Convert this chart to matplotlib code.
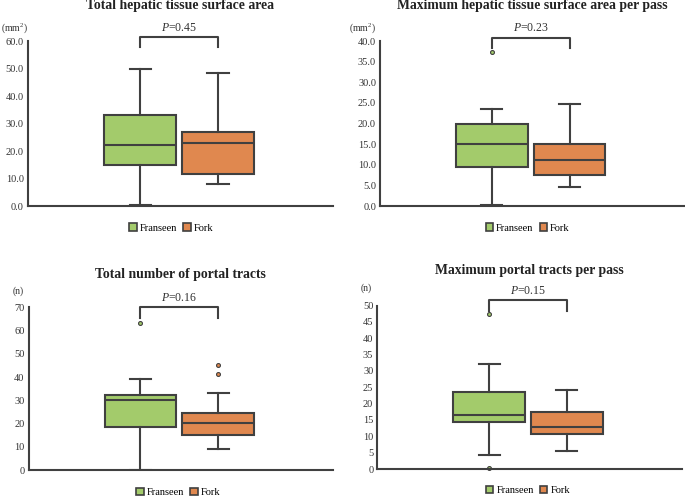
import matplotlib
matplotlib.use("Agg")
import matplotlib.pyplot as plt
from matplotlib.patches import Patch

plt.rcParams['font.family'] = ['Liberation Serif', 'DejaVu Serif']
plt.rcParams['mathtext.fontset'] = 'custom'
plt.rcParams['mathtext.rm'] = 'Liberation Serif'
plt.rcParams['mathtext.it'] = 'Liberation Serif:italic'

groups = ["Franseen", "Fork"]
colors = ["#A3CB6B", "#E0884F"]
edge = "#404040"

titles = ["Total hepatic tissue surface area",
          "Maximum hepatic tissue surface area per pass",
          "Total number of portal tracts",
          "Maximum portal tracts per pass"]
units = ["(mm$^2$)", "(mm$^2$)", "(n)", "(n)"]
pvalues = ["0.45", "0.23", "0.16", "0.15"]
ymax = [60, 40, 70, 50]
ystep = [10, 5, 10, 5]
tick_fmt = ["{:.1f}", "{:.1f}", "{:.0f}", "{:.0f}"]

# [whislo, q1, med, q3, whishi]
franseen_stats = [[0.4, 15.0, 22.2, 33.2, 50.0],
                  [0.3, 9.4, 15.0, 20.0, 23.5],
                  [0.0, 18.6, 30.3, 32.1, 39.3],
                  [4.4, 14.3, 16.4, 23.5, 32.2]]
fork_stats = [[7.9, 11.6, 22.8, 26.8, 48.2],
              [4.7, 7.6, 11.2, 15.0, 24.7],
              [9.0, 15.2, 20.1, 24.7, 33.1],
              [5.4, 10.7, 12.9, 17.5, 24.2]]
franseen_fliers = [[], [37.3], [63.4], [47.3, 0.2]]
fork_fliers = [[], [], [45.2, 41.2], []]

W, H = 685.0, 497.0
axes_rects = [[0.041, 0.5855, 0.445, 0.332],
              [0.555, 0.5855, 0.444, 0.332],
              [0.042, 0.0543, 0.444, 0.3274],
              [0.551, 0.0563, 0.444, 0.329]]
title_base = [9.5, 9.5, 278.3, 274.0]          # pixel rows from top
units_pos = [(27.5, 30.5), (376, 30.5), (23.5, 294), (372, 291)]
bracket_top = [1.022, 1.02, 1.0, 1.032]
bracket_bot = [0.962, 0.956, 0.936, 0.965]
legend_y = [228, 228, 492.5, 490.5]
legend_xfrac = [0.47, 0.485, 0.492, 0.495]

fig = plt.figure(figsize=(6.85, 4.97), dpi=100)

for i in range(4):
    ax = fig.add_axes(axes_rects[i])
    stats = []
    for name, s, fl in ((groups[0], franseen_stats[i], franseen_fliers[i]),
                        (groups[1], fork_stats[i], fork_fliers[i])):
        stats.append(dict(label=name, whislo=s[0], q1=s[1], med=s[2],
                          q3=s[3], whishi=s[4], fliers=fl))
    bp = ax.bxp(stats, positions=[1, 2], widths=0.92, patch_artist=True,
                showfliers=True,
                boxprops=dict(edgecolor=edge, linewidth=1.5),
                medianprops=dict(color=edge, linewidth=1.5),
                whiskerprops=dict(color=edge, linewidth=1.5),
                capprops=dict(color=edge, linewidth=1.5),
                capwidths=0.27)
    for patch, c in zip(bp['boxes'], colors):
        patch.set_facecolor(c)
    for fl, c in zip(bp['fliers'], colors):
        fl.set(marker='o', markersize=2.8, markerfacecolor=c,
               markeredgecolor=edge, markeredgewidth=0.8, clip_on=False)
    ax.set_xlim(-0.436, 3.474)
    ax.set_ylim(0, ymax[i])
    ticks = list(range(0, ymax[i] + 1, ystep[i]))
    ax.set_yticks(ticks)
    ax.set_yticklabels([tick_fmt[i].format(t) for t in ticks], fontsize=7.5,
                       color="#333333")
    ax.set_xticks([])
    ax.tick_params(axis='y', length=0, pad=3)
    for sp in ['top', 'right']:
        ax.spines[sp].set_visible(False)
    for sp in ['left', 'bottom']:
        ax.spines[sp].set_color(edge)
        ax.spines[sp].set_linewidth(1.5)
    x0, y0, w, h = axes_rects[i]
    fig.text(x0 + w / 2, 1 - title_base[i] / H, titles[i], ha='center',
             va='baseline', fontsize=9.9, fontweight='bold', color="#222222")
    ux, uy = units_pos[i]
    fig.text(ux / W, 1 - uy / H, units[i], ha='right', va='baseline',
             fontsize=7, color="#333333")
    # significance bracket
    tr = ax.get_xaxis_transform()
    yt = bracket_top[i]
    yb = bracket_bot[i]
    ax.plot([1, 1, 2, 2], [yb, yt, yt, yb], color=edge, lw=1.5,
            clip_on=False, transform=tr)
    ax.annotate("$P$=" + pvalues[i], xy=(1.5, yt), xycoords=tr,
                xytext=(0, 2.5), textcoords='offset points',
                ha='center', va='bottom', fontsize=8.5, color="#333333")
    cx = x0 + w * legend_xfrac[i]
    handles = [Patch(facecolor=c, edgecolor=edge, linewidth=1.2, label=g)
               for g, c in zip(groups, colors)]
    fig.legend(handles=handles, loc='center',
               bbox_to_anchor=(cx, 1 - legend_y[i] / H),
               ncol=2, frameon=False, fontsize=7.5, handlelength=0.7,
               handleheight=0.7, handletextpad=0.3, columnspacing=0.6,
               borderpad=0.1)

fig.savefig("out.png", dpi=100)
